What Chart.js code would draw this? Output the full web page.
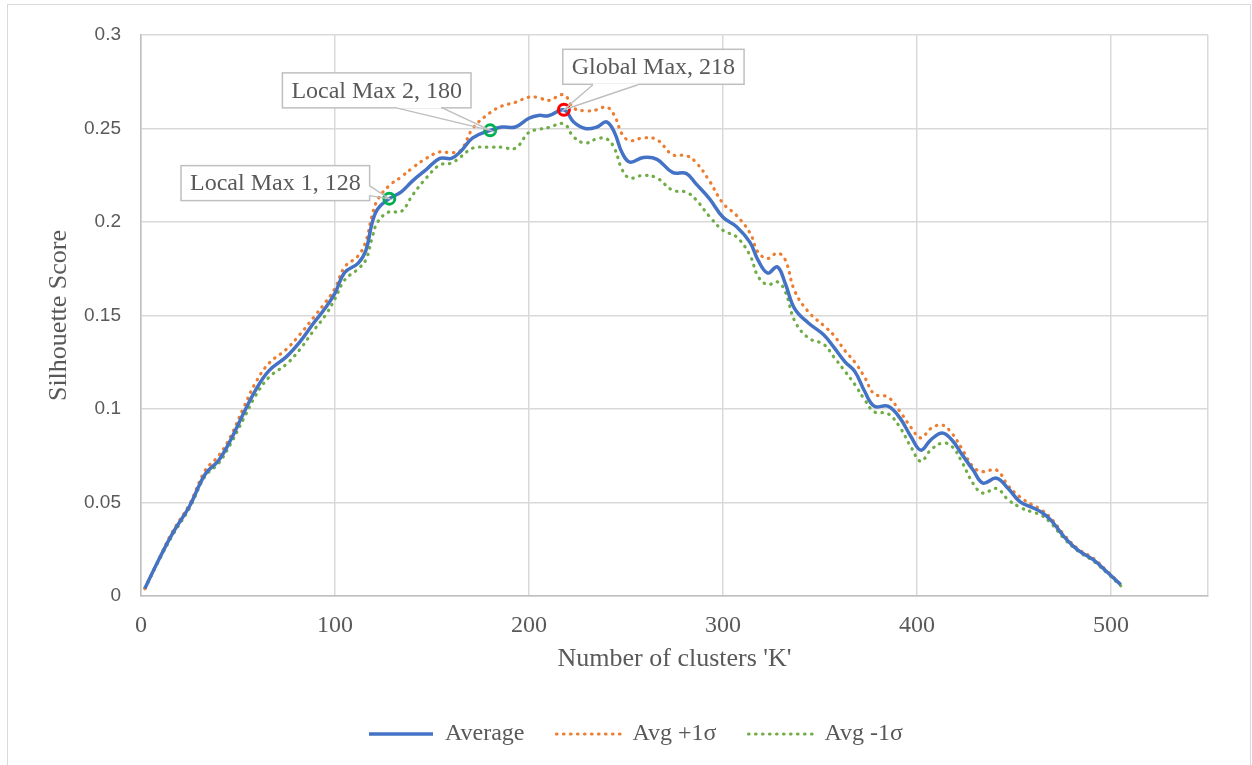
<!DOCTYPE html>
<html>
<head>
<meta charset="utf-8">
<script src="https://cdn.jsdelivr.net/npm/chart.js@4.4.1/dist/chart.umd.min.js"></script>
<style>
  html, body { margin:0; padding:0; background:#fff; }
</style>
</head>
<body>
<canvas id="graphe" width="1252" height="765"></canvas>
<script>
// valeurs (K -> score silhouette)
const clusters = [2, 8, 16, 25, 33, 40, 46, 53, 59, 66,
  75, 82, 89, 95, 100, 105, 112, 116, 119, 122,
  128, 134, 140, 147, 154, 160, 165, 171, 180, 186,
  193, 200, 205, 210, 218, 223, 229, 235, 240, 244,
  248, 252, 259, 266, 274, 281, 286, 293, 300, 307,
  314, 318, 323, 328, 332, 337, 344, 352, 357, 363,
  368, 373, 378, 385, 391, 397, 402, 407, 413, 418,
  423, 429, 434, 441, 447, 453, 459, 464, 469, 476,
  483, 491, 498, 505];

const moyenne = [0.004, 0.017, 0.033, 0.048, 0.065, 0.0725, 0.083, 0.098, 0.110, 0.1205,
  0.128, 0.136, 0.146, 0.154, 0.162, 0.173, 0.178, 0.185, 0.199, 0.207,
  0.2125, 0.216, 0.222, 0.228, 0.234, 0.234, 0.238, 0.245, 0.249, 0.2508,
  0.2508, 0.2555, 0.257, 0.2568, 0.260, 0.2535, 0.250, 0.2508, 0.2535, 0.248,
  0.237, 0.232, 0.2345, 0.2335, 0.2265, 0.226, 0.2205, 0.2125, 0.2025, 0.1975,
  0.189, 0.1797, 0.1727, 0.176, 0.1674, 0.1535, 0.146, 0.1396, 0.1332, 0.1251,
  0.120, 0.1095, 0.1015, 0.1015, 0.0955, 0.085, 0.078, 0.0834, 0.0872, 0.0834,
  0.076, 0.0672, 0.0604, 0.063, 0.0575, 0.0505, 0.0475, 0.0449, 0.0406, 0.0315,
  0.0245, 0.0193, 0.0128, 0.006];

const moyennePlus = [0.004, 0.017, 0.034, 0.049, 0.067, 0.075, 0.085, 0.101, 0.114, 0.1245,
  0.132, 0.140, 0.149, 0.157, 0.1645, 0.176, 0.182, 0.190, 0.203, 0.212,
  0.2195, 0.224, 0.229, 0.234, 0.2375, 0.237, 0.2385, 0.250, 0.2585, 0.262,
  0.264, 0.2668, 0.2665, 0.265, 0.268, 0.261, 0.2594, 0.260, 0.2615, 0.257,
  0.247, 0.2435, 0.245, 0.244, 0.236, 0.2355, 0.232, 0.222, 0.210, 0.2035,
  0.194, 0.184, 0.1805, 0.1834, 0.180, 0.163, 0.152, 0.1445, 0.1396, 0.131,
  0.125, 0.117, 0.108, 0.1064, 0.099, 0.090, 0.0845, 0.0895, 0.0914, 0.087,
  0.079, 0.069, 0.0665, 0.0674, 0.059, 0.053, 0.049, 0.0462, 0.0416, 0.0325,
  0.0252, 0.020, 0.0133, 0.0062];

const moyenneMoins = [0.004, 0.0165, 0.032, 0.047, 0.064, 0.071, 0.081, 0.095, 0.107, 0.117,
  0.124, 0.132, 0.142, 0.150, 0.159, 0.169, 0.175, 0.180, 0.191, 0.200,
  0.2055, 0.2055, 0.2144, 0.2235, 0.2305, 0.2315, 0.235, 0.2395, 0.240, 0.240,
  0.2395, 0.248, 0.2495, 0.2505, 0.2525, 0.2455, 0.2422, 0.2445, 0.2445, 0.2395,
  0.228, 0.2235, 0.225, 0.2235, 0.217, 0.216, 0.212, 0.203, 0.1955, 0.192,
  0.182, 0.171, 0.1665, 0.168, 0.163, 0.147, 0.138, 0.1345, 0.128, 0.120,
  0.113, 0.105, 0.0985, 0.0975, 0.0905, 0.0795, 0.072, 0.078, 0.0818, 0.080,
  0.072, 0.060, 0.055, 0.0575, 0.0515, 0.0475, 0.045, 0.0433, 0.039, 0.0305,
  0.024, 0.0186, 0.0123, 0.0055];

// les pics annotés
const pics = [128, 180, 218];
const picsTextes = ['Local Max 1, 128', 'Local Max 2, 180', 'Global Max, 218'];

// graduations
const xTicks = [0, 100, 200, 300, 400, 500];
const yTicks = [0, 0.05, 0.1, 0.15, 0.2, 0.25, 0.3];

const gris = '#595959';
const serif = "'Liberation Serif', 'Times New Roman', serif";

const points = (vals) => clusters.map((k, i) => ({x: k, y: vals[i]}));

// position des bulles par rapport au point (en px)
const bulles = [
  {dx: -114, dy: -15.5, base: [[-20, -13], [-20, -3]]},
  {dx: -113.5, dy: -40, base: [[-96, -23], [-49, -23]]},
  {dx: 89.5, dy: -43, base: [[29, -25], [74, -25]]}
];

const pluginBulles = {
  id: 'bulles',
  beforeDraw(chart) {
    const ctx = chart.ctx;
    ctx.save();
    ctx.strokeStyle = '#d9d9d9';
    ctx.lineWidth = 1;
    ctx.strokeRect(7.5, 4.5, 1243, 800);
    ctx.restore();
  },
  afterDatasetsDraw(chart) {
    const ctx = chart.ctx;
    const sx = chart.scales.x, sy = chart.scales.y;
    ctx.save();
    ctx.font = '24px ' + serif;
    pics.forEach((k, i) => {
      const mx = sx.getPixelForValue(k);
      const my = sy.getPixelForValue(moyenne[clusters.indexOf(k)]);
      const b = bulles[i];
      const w = ctx.measureText(picsTextes[i]).width + 18;
      const h = 35;
      const cx = mx + b.dx, cy = my + b.dy;
      ctx.fillStyle = '#fff';
      ctx.fillRect(cx - w / 2, cy - h / 2, w, h);
      ctx.strokeStyle = '#bfbfbf';
      ctx.lineWidth = 1.5;
      ctx.strokeRect(cx - w / 2, cy - h / 2, w, h);
      // effacer la base du pointeur
      ctx.strokeStyle = '#fff';
      ctx.lineWidth = 2.5;
      ctx.beginPath();
      ctx.moveTo(mx + b.base[0][0], my + b.base[0][1]);
      ctx.lineTo(mx + b.base[1][0], my + b.base[1][1]);
      ctx.stroke();
      ctx.strokeStyle = '#bfbfbf';
      ctx.lineWidth = 1.5;
      ctx.beginPath();
      ctx.moveTo(mx + b.base[0][0], my + b.base[0][1]);
      ctx.lineTo(mx, my);
      ctx.lineTo(mx + b.base[1][0], my + b.base[1][1]);
      ctx.stroke();
      ctx.fillStyle = gris;
      ctx.textAlign = 'center';
      ctx.textBaseline = 'middle';
      ctx.fillText(picsTextes[i], cx, cy + 1);
    });
    ctx.restore();
  }
};

const graphe = document.querySelector('#graphe');
if (graphe) {
  const courbe = new Chart(graphe, {
    type: 'line',
    data: {
      datasets: [{
        label: 'pics',
        data: pics.map(k => ({x: k, y: moyenne[clusters.indexOf(k)]})),
        showLine: false,
        pointRadius: 5.5,
        pointBorderWidth: 3,
        pointBorderColor: ['#00B050', '#00B050', '#FF0000'],
        pointBackgroundColor: 'rgba(255,255,255,0)'
      }, {
        label: 'Average',
        data: points(moyenne),
        borderColor: '#4472C4',
        borderWidth: 3.5,
        tension: 0.4,
        pointRadius: 0
      }, {
        label: 'Avg +1σ',
        data: points(moyennePlus),
        borderColor: '#ED7D31',
        borderWidth: 3.2,
        borderDash: [0.5, 6.5],
        borderCapStyle: 'round',
        tension: 0.4,
        pointRadius: 0
      }, {
        label: 'Avg -1σ',
        data: points(moyenneMoins),
        borderColor: '#70AD47',
        borderWidth: 3.2,
        borderDash: [0.5, 6.5],
        borderCapStyle: 'round',
        tension: 0.4,
        pointRadius: 0
      }]
    },
    options: {
      responsive: false,
      animation: false,
      devicePixelRatio: 1,
      layout: { padding: { top: 35, right: 44, left: 64, bottom: 9 } },
      plugins: {
        tooltip: { enabled: false },
        legend: {
          position: 'bottom',
          labels: {
            usePointStyle: true,
            pointStyle: 'line',
            pointStyleWidth: 64,
            padding: 32,
            color: gris,
            font: { family: serif, size: 24 },
            // on garde le style des traits (pointillés) dans la légende
            generateLabels: (chart) => Chart.defaults.plugins.legend.labels.generateLabels(chart)
              .filter(item => item.datasetIndex !== 0)
              .map(item => {
                const ds = chart.data.datasets[item.datasetIndex];
                item.lineDash = ds.borderDash || [];
                item.lineCap = ds.borderCapStyle || 'butt';
                item.lineWidth = ds.borderWidth;
                item.strokeStyle = ds.borderColor;
                item.fillStyle = ds.borderColor;
                return item;
              })
          }
        }
      },
      scales: {
        x: {
          type: 'linear',
          min: 0,
          max: 550,
          afterBuildTicks: (s) => { s.ticks = xTicks.map(v => ({value: v})).concat([{value: 550}]); },
          afterFit: (s) => { s.height = 94; },
          grid: { color: '#d9d9d9', lineWidth: 1.5, drawTicks: false },
          border: { color: '#bfbfbf', width: 1.5 },
          ticks: {
            padding: 15,
            color: gris,
            font: { family: serif, size: 24 },
            maxRotation: 0,
            autoSkip: false,
            callback: (v) => xTicks.includes(v) ? String(v) : ''
          },
          title: {
            display: true,
            text: "Number of clusters 'K'",
            color: gris,
            font: { family: serif, size: 26 },
            padding: { top: 0, bottom: 15 }
          }
        },
        y: {
          min: 0,
          max: 0.3,
          afterBuildTicks: (s) => { s.ticks = yTicks.map(v => ({value: v})); },
          afterFit: (s) => { s.width = 77; },
          grid: { color: '#d9d9d9', lineWidth: 1.5, drawTicks: false },
          border: { color: '#bfbfbf', width: 1.5 },
          ticks: {
            padding: 20,
            color: gris,
            font: { family: "'Liberation Sans', Arial, sans-serif", size: 19 },
            callback: (v) => String(+v.toFixed(2))
          },
          title: {
            display: true,
            text: 'Silhouette Score',
            color: gris,
            font: { family: serif, size: 26 },
            padding: { top: -20, bottom: 0 }
          }
        }
      }
    },
    plugins: [pluginBulles]
  });
}
</script>
</body>
</html>
